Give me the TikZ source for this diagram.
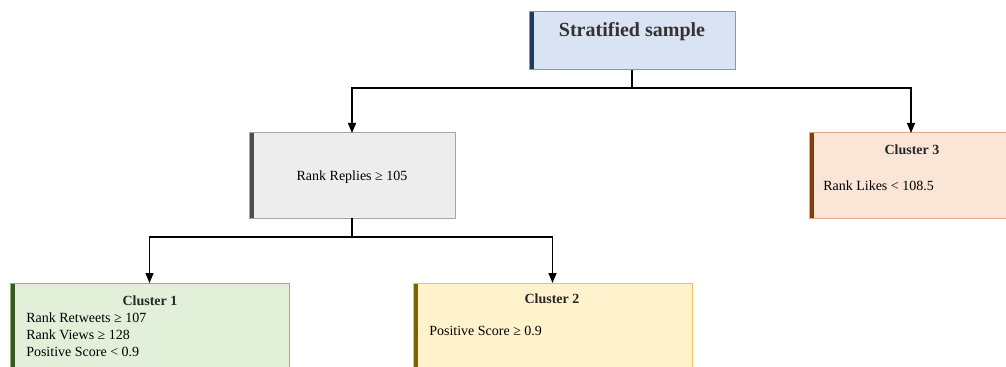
\documentclass[tikz,border=0pt]{standalone}
\usepackage{fontspec}
\setmainfont{Liberation Serif}
\usetikzlibrary{arrows.meta,positioning}
\definecolor{rootfill}{HTML}{DAE3F3}
\definecolor{rootline}{HTML}{8497C8}
\definecolor{rootbar}{HTML}{1F3864}
\definecolor{repfill}{HTML}{EDEDED}
\definecolor{repline}{HTML}{A5A5A5}
\definecolor{repbar}{HTML}{4D4D4D}
\definecolor{cAfill}{HTML}{E2F0D9}
\definecolor{cAline}{HTML}{8DB873}
\definecolor{cAbar}{HTML}{385723}
\definecolor{cBfill}{HTML}{FFF2CC}
\definecolor{cBline}{HTML}{E6C65A}
\definecolor{cBbar}{HTML}{7F6000}
\definecolor{cCfill}{HTML}{FBE5D6}
\definecolor{cCline}{HTML}{E8A57A}
\definecolor{cCbar}{HTML}{843C0C}
\begin{document}
\begin{tikzpicture}[x=0.75pt, y=-0.75pt,
    box/.style n args={3}{draw=#2, fill=#3, line width=0.75pt, inner sep=0pt, outer sep=0pt, anchor=north west,
      path picture={\fill[#1] (path picture bounding box.north west) rectangle ([xshift=3.6pt]path picture bounding box.south west);}},
    title/.style={font=\bfseries\fontsize{15}{18}\selectfont, text=black!80, inner sep=0pt},
    head/.style={font=\bfseries\fontsize{10.5}{12}\selectfont, text=black!85, inner sep=0pt},
    txt/.style={font=\fontsize{10.5}{12}\selectfont, anchor=west, inner sep=0pt},
    link/.style={line width=1.1pt, -{Triangle[length=7.5pt,width=6pt]}}]

  \useasboundingbox (0,0) rectangle (1006,367);
  \clip (0,0) rectangle (1006,367);

  % boxes
  \node[box={rootbar}{rootline}{rootfill}, minimum width=154.5pt, minimum height=43.5pt] (root) at (529,12) {};
  \node[box={repbar}{repline}{repfill}, minimum width=154.5pt, minimum height=63.75pt] (replies) at (249,133) {};
  \node[box={cCbar}{cCline}{cCfill}, minimum width=153pt, minimum height=63.75pt] (clC) at (809,133) {};
  \node[box={cAbar}{cAline}{cAfill}, minimum width=209.25pt, minimum height=75pt] (clA) at (10,283) {};
  \node[box={cBbar}{cBline}{cBfill}, minimum width=209.25pt, minimum height=75pt] (clB) at (413,283) {};

  % texts
  \node[title] (roottext) at (632,32) {Stratified sample};
  \node[txt, anchor=center] (reptext) at (352,177) {Rank Replies ≥ 105};
  \node[head] (clChead) at (912,150) {Cluster 3};
  \node[txt] (clCline) at (823,186) {Rank Likes < 108.5};
  \node[head] (clAhead) at (150,301) {Cluster 1};
  \node[txt] (clAlineA) at (26,318) {Rank Retweets ≥ 107};
  \node[txt] (clAlineB) at (26,335) {Rank Views ≥ 128};
  \node[txt] (clAlineC) at (26,352) {Positive Score < 0.9};
  \node[head] (clBhead) at (552,299) {Cluster 2};
  \node[txt] (clBline) at (429,331) {Positive Score ≥ 0.9};

  % links
  \draw[link] (root.south) -- ++(0,18) -| (replies.north);
  \draw[link] (root.south) -- ++(0,18) -| (clC.north);
  \draw[link] (replies.south) -- ++(0,19) -| (clA.north);
  \draw[link] (replies.south) -- ++(0,19) -| (clB.north);
\end{tikzpicture}
\end{document}
